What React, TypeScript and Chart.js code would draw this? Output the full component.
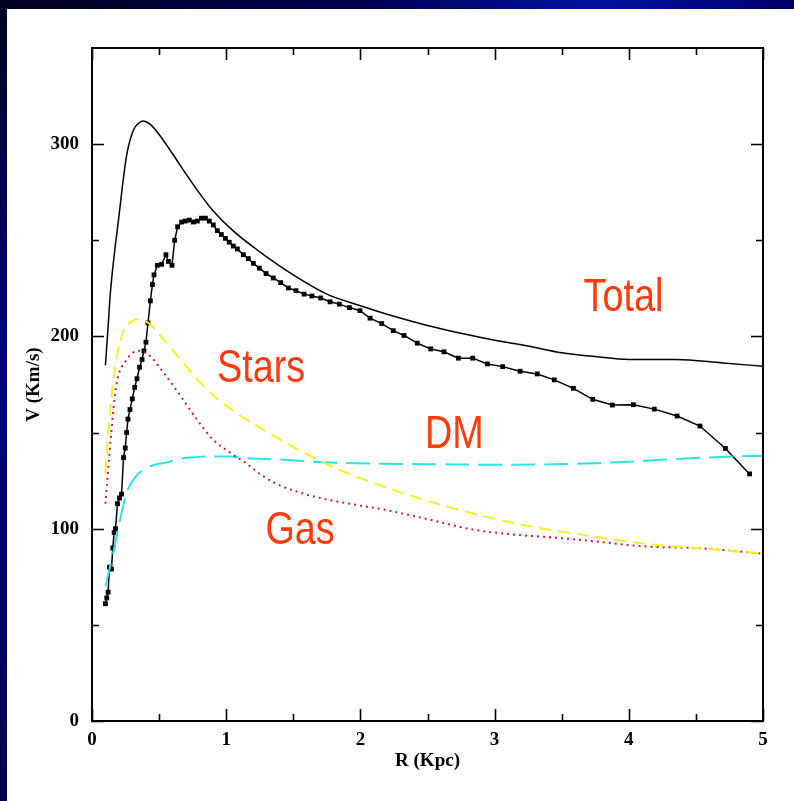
import React, { useEffect, useRef } from "react";
import { Chart, registerables } from "chart.js";

Chart.register(...registerables);

// Observed rotation curve (points joined by a line)
const obsR = [0.10, 0.11, 0.12, 0.13, 0.145, 0.155, 0.165, 0.175, 0.19, 0.205, 0.22, 0.235, 0.248, 0.258, 0.268, 0.283, 0.30, 0.318, 0.335, 0.355, 0.373, 0.387, 0.402, 0.417, 0.435, 0.45, 0.462, 0.487, 0.519, 0.551, 0.569, 0.596, 0.616, 0.638, 0.668, 0.695, 0.725, 0.755, 0.785, 0.815, 0.845, 0.874, 0.904, 0.934, 0.964, 0.994, 1.023, 1.053, 1.083, 1.128, 1.165, 1.202, 1.247, 1.297, 1.351, 1.406, 1.463, 1.52, 1.58, 1.639, 1.704, 1.774, 1.843, 1.918, 1.997, 2.072, 2.159, 2.245, 2.325, 2.424, 2.524, 2.623, 2.73, 2.837, 2.946, 3.06, 3.19, 3.318, 3.445, 3.587, 3.731, 3.877, 4.034, 4.19, 4.36, 4.53, 4.72, 4.90];
const obsV = [61, 64, 67, 80, 79, 90, 98, 100, 113, 116, 118, 137, 142, 150, 157, 162, 167.5, 173.5, 178, 184, 188, 192.5, 197, 207, 218.5, 227, 232, 237, 237.5, 242.5, 239, 237, 250, 257, 259.5, 260, 260.5, 259.5, 260, 261.5, 261.5, 260, 258, 255, 253, 251, 249, 247, 245.5, 242.5, 240.5, 238, 235.5, 232.7, 230.4, 228, 225.2, 223.8, 222, 221, 220, 218, 216.8, 215, 213.4, 209.5, 206.7, 203, 200.5, 196.5, 193.5, 192, 188.7, 188.7, 185.7, 184.3, 181.9, 180.5, 177.4, 173, 167.3, 164.3, 164.5, 162.2, 158.6, 153.4, 141.7, 128.5];

// Model components
const totalR = [0.10, 0.12, 0.135, 0.17, 0.20, 0.23, 0.26, 0.31, 0.35, 0.38, 0.43, 0.50, 0.60, 0.70, 0.80, 0.90, 1.05, 1.25, 1.50, 1.75, 2.00, 2.25, 2.50, 2.75, 3.00, 3.25, 3.50, 3.75, 4.00, 4.35, 4.70, 5.00];
const totalV = [185, 205, 221, 245, 262, 280, 295, 307.5, 311, 312, 310.5, 305, 295, 284.5, 274.5, 265.5, 255, 244, 232, 222, 216, 210.5, 205.7, 201.6, 198, 195, 191.5, 189.5, 188, 188, 186.2, 184.5];

const starsR = [0.10, 0.13, 0.18, 0.23, 0.29, 0.35, 0.43, 0.53, 0.66, 0.78, 0.90, 1.00, 1.10, 1.20, 1.30, 1.40, 1.50, 1.60, 1.70, 1.80, 1.90, 2.00, 2.17, 2.50, 2.82, 3.14, 3.46, 3.74, 4.08, 4.58, 5.00];
const starsV = [129, 158, 187, 202, 207.5, 209, 206.5, 198.7, 188, 178, 169.5, 164, 159, 154.8, 150.5, 146.5, 142.5, 138.8, 135.3, 132, 129, 126.3, 122, 114.5, 108.3, 103, 98.8, 96, 92.5, 89.5, 87];

const gasR = [0.10, 0.14, 0.18, 0.26, 0.345, 0.43, 0.53, 0.66, 0.78, 0.90, 1.03, 1.15, 1.25, 1.40, 1.55, 1.70, 2.00, 2.17, 2.50, 2.82, 3.14, 3.46, 3.74, 4.08, 4.58, 5.00];
const gasV = [113, 147, 174, 188, 192.5, 190, 181.5, 169, 157, 146.5, 139.5, 134, 128.5, 122.5, 118.8, 116, 112, 110, 105, 99.8, 97, 95.3, 93.5, 91, 89.6, 87];

const dmR = [0.10, 0.16, 0.21, 0.26, 0.33, 0.42, 0.48, 0.56, 0.63, 0.73, 0.88, 1.03, 1.13, 1.40, 1.77, 2.15, 2.60, 2.97, 3.46, 3.96, 4.46, 5.00];
const dmV = [70, 88, 105, 119, 127.5, 132, 133.5, 134.5, 136, 137, 137.6, 137.6, 136.8, 136, 134.4, 133.8, 133.5, 133.3, 133.5, 134.7, 136.7, 138];

// Axes
const xMajor = [0, 1, 2, 3, 4, 5];
const xMinor = [0.5, 1.5, 2.5, 3.5, 4.5];
const yMajor = [0, 100, 200, 300];
const yMinor = [50, 150, 250];

// Curve names written on the plot, anchored in data coordinates
const curveNames = ["Total", "Stars", "DM", "Gas"];
const nameR = [3.96, 1.26, 2.70, 1.55];
const nameV = [213, 176.5, 142, 92];

const pts = (r: number[], v: number[]) => r.map((x, i) => ({ x, y: v[i] }));

const tickFont = { family: "'Liberation Serif'", size: 19, weight: "bold" as const };

const framePlugin = {
  id: "frame",
  beforeDraw(chart: any) {
    const { ctx, width, height } = chart;
    ctx.save();
    ctx.fillStyle = "#ffffff";
    ctx.fillRect(0, 0, width, height);
    // dark blue edges
    const top = ctx.createLinearGradient(0, 0, width, 0);
    top.addColorStop(0, "#00001e");
    top.addColorStop(0.45, "#000050");
    top.addColorStop(0.75, "#0012a0");
    top.addColorStop(1, "#00006a");
    ctx.fillStyle = top;
    ctx.fillRect(0, 0, width, 9);
    const left = ctx.createLinearGradient(0, 0, 0, height);
    left.addColorStop(0, "#00001e");
    left.addColorStop(0.45, "#00007e");
    left.addColorStop(1, "#000050");
    ctx.fillStyle = left;
    ctx.fillRect(0, 0, 7, height);
    ctx.restore();
  },
  afterDatasetsDraw(chart: any) {
    const { ctx, chartArea: a, scales } = chart;
    const xs = scales.x;
    const ys = scales.y;
    ctx.save();
    ctx.strokeStyle = "#000";
    ctx.lineWidth = 1.6;
    ctx.beginPath();
    const tick = (vals: number[], len: number, horiz: boolean) => {
      vals.forEach((v) => {
        if (horiz) {
          const px = Math.round(xs.getPixelForValue(v)) + 0.5;
          ctx.moveTo(px, a.bottom);
          ctx.lineTo(px, a.bottom - len);
          ctx.moveTo(px, a.top);
          ctx.lineTo(px, a.top + len);
        } else {
          const py = Math.round(ys.getPixelForValue(v)) + 0.5;
          ctx.moveTo(a.left, py);
          ctx.lineTo(a.left + len, py);
          ctx.moveTo(a.right, py);
          ctx.lineTo(a.right - len, py);
        }
      });
    };
    tick(xMajor, 12, true);
    tick(xMinor, 7, true);
    tick(yMajor, 12, false);
    tick(yMinor, 7, false);
    ctx.stroke();
    ctx.lineWidth = 2;
    ctx.strokeRect(a.left, a.top, a.right - a.left, a.bottom - a.top);

    // curve names
    ctx.fillStyle = "#ff3a0c";
    ctx.font = "46px 'Liberation Sans'";
    ctx.textAlign = "center";
    ctx.textBaseline = "alphabetic";
    const sx = 0.82;
    curveNames.forEach((name, i) => {
      const px = xs.getPixelForValue(nameR[i]);
      const py = ys.getPixelForValue(nameV[i]);
      ctx.save();
      ctx.scale(sx, 1);
      ctx.fillText(name, px / sx, py);
      ctx.restore();
    });
    ctx.restore();
  },
};

export default function App() {
  const ref = useRef<HTMLCanvasElement>(null);

  useEffect(() => {
    if (!ref.current) return;
    const chart = new Chart(ref.current, {
      type: "line",
      data: {
        datasets: [
          {
            label: "Total",
            data: pts(totalR, totalV),
            borderColor: "#000",
            borderWidth: 1.5,
            pointRadius: 0,
            cubicInterpolationMode: "monotone",
          },
          {
            label: "Stars",
            data: pts(starsR, starsV),
            borderColor: "#f3f02a",
            borderWidth: 2,
            borderDash: [12, 7],
            pointRadius: 0,
            cubicInterpolationMode: "monotone",
          },
          {
            label: "Gas",
            data: pts(gasR, gasV),
            borderColor: "#c0242e",
            borderWidth: 2,
            borderDash: [2, 4],
            pointRadius: 0,
            cubicInterpolationMode: "monotone",
          },
          {
            label: "DM",
            data: pts(dmR, dmV),
            borderColor: "#2ee3e3",
            borderWidth: 2,
            borderDash: [24, 9],
            pointRadius: 0,
            cubicInterpolationMode: "monotone",
          },
          {
            label: "Observed",
            data: pts(obsR, obsV),
            borderColor: "#000",
            backgroundColor: "#000",
            borderWidth: 1.5,
            pointStyle: "rect",
            pointRadius: 3.4,
            pointBorderWidth: 0,
            tension: 0,
          },
        ],
      },
      options: {
        animation: false,
        responsive: false,
        maintainAspectRatio: false,
        layout: { padding: { left: 0, top: 48, right: 31, bottom: 0 } },
        plugins: { legend: { display: false }, tooltip: { enabled: false } },
        scales: {
          x: {
            type: "linear",
            min: 0,
            max: 5,
            afterBuildTicks: (s: any) => {
              s.ticks = xMajor.map((value) => ({ value }));
            },
            afterFit: (s: any) => {
              s.height = 80;
            },
            grid: { display: false, drawTicks: false },
            border: { display: false },
            ticks: {
              autoSkip: false,
              maxRotation: 0,
              padding: 8,
              color: "#000",
              font: tickFont,
            },
            title: {
              display: true,
              text: "R (Kpc)",
              color: "#000",
              font: tickFont,
              padding: { top: 4, bottom: 29 },
            },
          },
          y: {
            type: "linear",
            min: 0,
            max: 350,
            afterBuildTicks: (s: any) => {
              s.ticks = yMajor.map((value) => ({ value }));
            },
            afterFit: (s: any) => {
              s.width = 92;
            },
            grid: { display: false, drawTicks: false },
            border: { display: false },
            ticks: {
              autoSkip: false,
              padding: 13,
              color: "#000",
              font: tickFont,
            },
            title: {
              display: true,
              text: "V (Km/s)",
              color: "#000",
              font: tickFont,
              padding: { top: 23, bottom: 4 },
            },
          },
        },
      } as any,
      plugins: [framePlugin],
    });
    return () => chart.destroy();
  }, []);

  return (
    <div style={{ position: "absolute", left: 0, top: 0, width: 794, height: 801 }}>
      <canvas ref={ref} width={794} height={801} style={{ width: 794, height: 801, display: "block" }} />
    </div>
  );
}
